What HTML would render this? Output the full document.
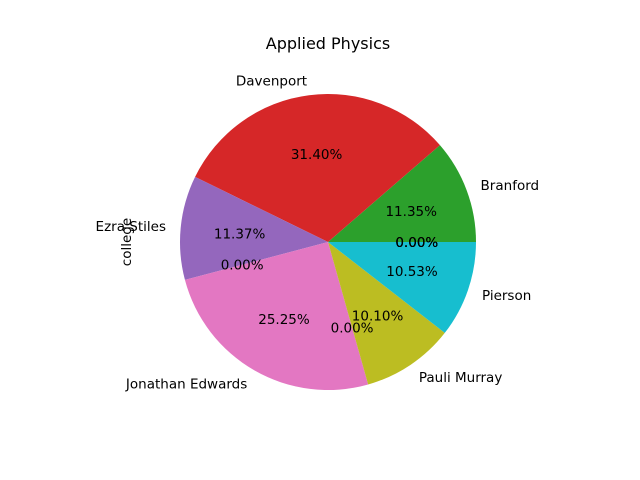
<!DOCTYPE html>
<html><head><meta charset="utf-8"><style>
body{margin:0;background:#fff}
svg{display:block;font-family:"DejaVu Sans","Liberation Sans",sans-serif}
</style></head><body>
<svg id="chart" width="640" height="480" viewBox="0 0 640 480">
<rect width="640" height="480" fill="#fff"/>
<text x="328" y="49" text-anchor="middle" font-size="16" fill="#000">Applied Physics</text>
<text transform="translate(131,242) rotate(-90)" text-anchor="middle" font-size="13.5" fill="#000">college</text>
<g id="slices"></g>
<g id="labels"></g>
</svg>
<script>
const categories = ["", "", "Branford", "Davenport", "Ezra Stiles", "", "Jonathan Edwards", "", "Pauli Murray", "Pierson", ""];
const values = [0, 0, 11.35, 31.40, 11.37, 0, 25.25, 0, 10.10, 10.53, 0];
const colors = ["#1f77b4","#ff7f0e","#2ca02c","#d62728","#9467bd","#8c564b","#e377c2","#7f7f7f","#bcbd22","#17becf","#1f77b4"];
const cx = 328, cy = 242, r = 148;
const NS = "http://www.w3.org/2000/svg";
const gS = document.getElementById("slices"), gL = document.getElementById("labels");
const total = values.reduce((a,b)=>a+b,0);
function pt(deg, rad){ const a = deg*Math.PI/180; return [cx + rad*Math.cos(a), cy - rad*Math.sin(a)]; }
let start = 0;
values.forEach((v,i)=>{
  const sweep = v/total*360, end = start + sweep, mid = start + sweep/2;
  if (sweep > 0) {
    const [x1,y1] = pt(start,r), [x2,y2] = pt(end,r);
    const p = document.createElementNS(NS,"path");
    p.setAttribute("d",`M${cx},${cy} L${x1},${y1} A${r},${r} 0 ${sweep>180?1:0} 0 ${x2},${y2} Z`);
    p.setAttribute("fill",colors[i]);
    
    
    gS.appendChild(p);
  }
  if (categories[i]) {
    const [lx,ly] = pt(mid, r*1.1);
    const t = document.createElementNS(NS,"text");
    t.setAttribute("x",lx); t.setAttribute("y",ly+5);
    t.setAttribute("font-size","13.5");
    t.setAttribute("text-anchor", lx>=cx ? "start" : "end");
    t.textContent = categories[i];
    
    
    gL.appendChild(t);
  }
  const [px,py] = pt(mid, r*0.6);
  const t2 = document.createElementNS(NS,"text");
  t2.setAttribute("x",px); t2.setAttribute("y",py+5);
  t2.setAttribute("font-size","13.5");
  t2.setAttribute("text-anchor","middle");
  t2.textContent = (v/total*100).toFixed(2)+"%";
  
  
  gL.appendChild(t2);
  start = end;
});
</script>
</body></html>
